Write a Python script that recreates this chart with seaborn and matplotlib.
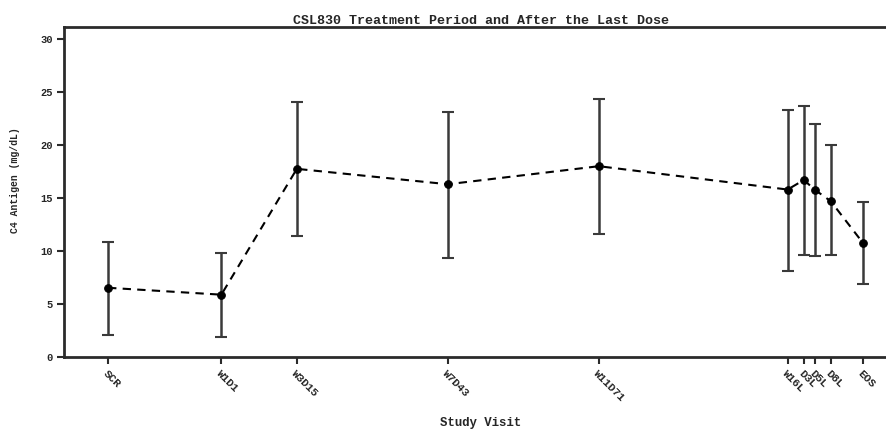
import matplotlib
matplotlib.use("Agg")
import matplotlib.pyplot as plt
import seaborn as sns
import pandas as pd
import numpy as np

# study visits and their study-day positions
visits = ["SCR", "W1D1", "W3D15", "W7D43", "W11D71", "W16L", "D3L", "D5L", "D8L", "EOS"]
visit_day = [-20, 1, 15, 43, 71, 106, 109, 111, 114, 120]

# C4 antigen (mg/dL): mean and error bar limits
c4_mean = [6.55, 5.9, 17.75, 16.3, 18.0, 15.8, 16.7, 15.8, 14.7, 10.75]
c4_upper = [10.9, 9.85, 24.0, 23.1, 24.3, 23.3, 23.7, 22.0, 20.0, 14.65]
c4_lower = [2.1, 1.9, 11.45, 9.4, 11.65, 8.1, 9.65, 9.5, 9.6, 6.9]

df = pd.DataFrame({"day": visit_day, "mean": c4_mean,
                   "upper": c4_upper, "lower": c4_lower})

sns.set_theme(style="ticks")
plt.rcParams["font.family"] = ["Liberation Mono", "DejaVu Sans Mono"]
plt.rcParams["font.weight"] = "bold"

fig = plt.figure(figsize=(8.87, 4.30), dpi=100)
# the original plot area runs slightly past the right edge of the image
ax = fig.add_axes([0.072, 0.169, 0.940, 0.768])

ink = "#2b2b2b"
ax.errorbar(df["day"], df["mean"],
            yerr=[df["mean"] - df["lower"], df["upper"] - df["mean"]],
            fmt="none", ecolor="#3a3a3a", elinewidth=1.8, capsize=4.5,
            capthick=1.5, zorder=2)
sns.lineplot(data=df, x="day", y="mean", ax=ax, color="black",
             linestyle=(0, (4, 3)), linewidth=1.5, marker="o",
             markersize=5.5, markeredgecolor="black", zorder=3)

ax.set_xlim(-28.2, 126.4)
ax.set_ylim(0, 31.1)
ax.set_yticks([0, 5, 10, 15, 20, 25, 30])
ax.set_xticks(visit_day)
ax.set_xticklabels(visits, rotation=-45, ha="left", va="top",
                   rotation_mode="anchor", fontsize=8, fontweight="bold")
for lab in ax.get_yticklabels():
    lab.set_fontsize(7.5)
    lab.set_fontweight("bold")

ax.tick_params(axis="both", direction="out", length=5, width=1.5,
               color=ink, pad=3)
for side in ["left", "bottom", "top"]:
    ax.spines[side].set_linewidth(2)
    ax.spines[side].set_color(ink)
ax.spines["right"].set_visible(False)

ax.set_xlabel("Study Visit", fontsize=8.9, fontweight="bold", va="center")
ax.xaxis.set_label_coords(0.5, -0.199)
ax.set_ylabel("C4 Antigen (mg/dL)", fontsize=7, fontweight="bold")
ax.yaxis.set_label_coords(-0.053, 0.536)
ax.set_title("CSL830 Treatment Period and After the Last Dose",
             fontsize=9.6, fontweight="bold", pad=2.5)

fig.savefig("out.png", dpi=100, facecolor="white")
